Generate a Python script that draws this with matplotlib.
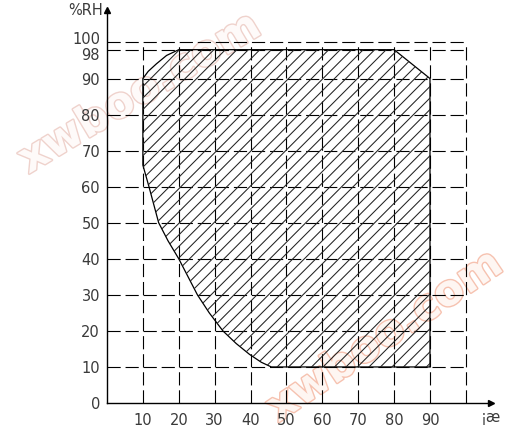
import numpy as np
import matplotlib
matplotlib.use("Agg")
import matplotlib.pyplot as plt
from matplotlib.patches import Polygon
import matplotlib.patheffects as pe
import matplotlib.transforms as mtransforms

plt.rcParams['lines.scale_dashes'] = False
plt.rcParams['font.family'] = ['DejaVu Sans']

# boundary of the operating range (temperature in C, humidity in %RH)
arc_t = [10, 11.5, 13.8, 16.6, 20]
arc_rh = [90, 92, 94.1, 96.4, 98]
edge_t = [80, 90, 90, 45.8]
edge_rh = [98, 90, 10, 10]
curve_t = [43, 39.7, 36, 32.3, 28.5, 25.2, 20, 17, 14.4, 11.7, 10]
curve_rh = [11.3, 13.5, 16.5, 20, 25, 30, 40, 45, 50, 60, 66]

x_ticks = [10, 20, 30, 40, 50, 60, 70, 80, 90]
y_ticks = [0, 10, 20, 30, 40, 50, 60, 70, 80, 90, 98, 100]
grid_x = [10, 20, 30, 40, 50, 60, 70, 80, 90, 100]
grid_y = [10, 20, 30, 40, 50, 60, 70, 80, 90, 98, 100]

fig = plt.figure(figsize=(5.27, 4.34), dpi=100)
ax = fig.add_axes([0.203, 0.0714, 0.7287, 0.9055])
ax.set_facecolor('none')

# watermarks behind the chart
wm = [pe.withStroke(linewidth=2.0, foreground='#efd2cc')]
fig.text(0.265, 0.785, 'xwboo.com', rotation=31, fontsize=31, fontweight='bold',
         color='#fefaf9', ha='center', va='center', zorder=-5, path_effects=wm)
wm2 = [pe.withStroke(linewidth=2.0, foreground='#f6c2b0')]
fig.text(0.73, 0.225, 'xwboo.com', rotation=34, fontsize=31, fontweight='bold',
         color='#fef6f2', ha='center', va='center', zorder=-5, path_effects=wm2)

dash = (0, (9.5, 3.5))
for gx in grid_x:
    ax.plot([gx, gx], [0, 100], color='black', lw=0.8, linestyle=dash)
for gy in grid_y:
    ax.plot([0, 100], [gy, gy], color='black', lw=0.8, linestyle=dash)

poly_t = arc_t + edge_t + curve_t
poly_rh = arc_rh + edge_rh + curve_rh
region = Polygon(np.column_stack([poly_t, poly_rh]), closed=True,
                 facecolor='none', edgecolor='black', lw=0.9)
ax.add_patch(region)

# diagonal hatching, clipped to the region
for c in np.arange(-95, 95, 3.2):
    ln, = ax.plot([0, 100], [c, c + 100], color='#222222', lw=0.75)
    ln.set_clip_path(region)

ax.set_xlim(0, 107)
ax.set_ylim(0, 109)
ax.spines['top'].set_visible(False)
ax.spines['right'].set_visible(False)
ax.spines['left'].set_linewidth(1.0)
ax.spines['bottom'].set_linewidth(1.0)
ax.plot(107, 0, marker='>', color='black', markersize=5, clip_on=False)
ax.plot(0, 109, marker='^', color='black', markersize=5, clip_on=False)

ax.set_xticks(x_ticks)
ax.set_yticks(y_ticks)
ax.tick_params(length=0, labelsize=10.5, labelcolor='#3a3a3a')
ax.tick_params(axis='x', pad=7)
ax.tick_params(axis='y', pad=5)

# nudge the crowded 100 / 98 labels apart
for lab, val in zip(ax.get_yticklabels(), y_ticks):
    if val == 100:
        lab.set_transform(lab.get_transform() + mtransforms.ScaledTranslation(0, 3.5 / 72, fig.dpi_scale_trans))
    if val == 98:
        lab.set_transform(lab.get_transform() + mtransforms.ScaledTranslation(0, -3 / 72, fig.dpi_scale_trans))

ax.text(-1, 109, '%RH', ha='right', va='center', fontsize=10.5, color='#3a3a3a')
ax.text(107, -4, '¡æ', ha='center', va='center', fontsize=10.5, color='#3a3a3a')

fig.savefig('out.png', dpi=100)
